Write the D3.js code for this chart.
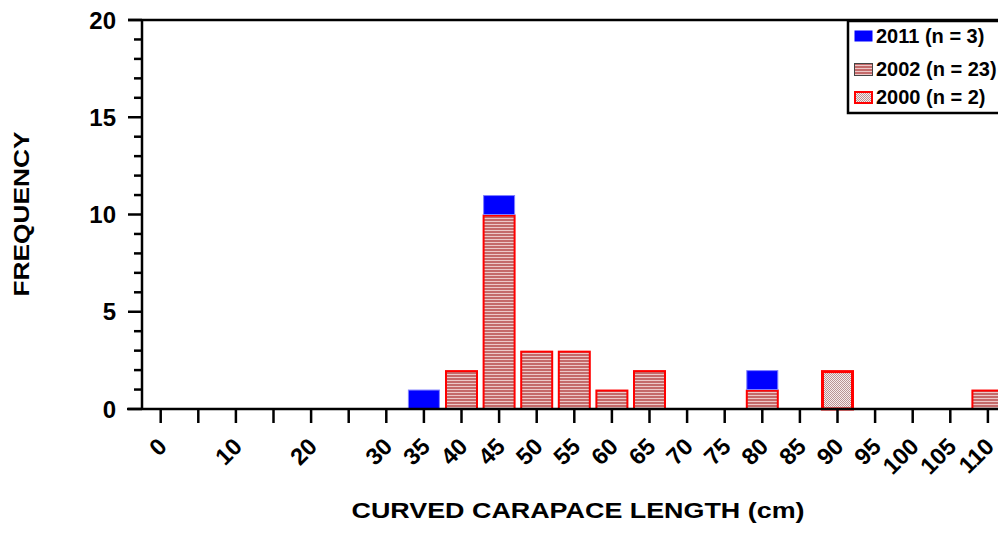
<!DOCTYPE html>
<html><head><meta charset="utf-8">
<script src="https://cdn.jsdelivr.net/npm/d3@7"></script>
<style>
html,body{margin:0;padding:0;background:#fff;}
svg{display:block;}
text{font-family:"Liberation Sans",Arial,sans-serif;font-weight:bold;fill:#000;}
</style></head>
<body>
<svg id="chart" width="998" height="533"></svg>
<script>
// ---- data ----
const categories = [0,5,10,15,20,25,30,35,40,45,50,55,60,65,70,75,80,85,90,95,100,105,110];
const labelledTicks = [0,10,20,30,35,40,45,50,55,60,65,70,75,80,85,90,95,100,105,110];
const values2011 = [0,0,0,0,0,0,0,1,0,1,0,0,0,0,0,0,1,0,0,0,0,0,0];
const values2002 = [0,0,0,0,0,0,0,0,2,10,3,3,1,2,0,0,1,0,0,0,0,0,1];
const values2000 = [0,0,0,0,0,0,0,0,0,0,0,0,0,0,0,0,0,0,2,0,0,0,0];
const seriesKeys = ["2000","2002","2011"];
const legendLabels = ["2011 (n = 3)","2002 (n = 23)","2000 (n = 2)"];
const yMajorTicks = [0,5,10,15,20];

const rows = categories.map((c,i)=>({cat:c,"2011":values2011[i],"2002":values2002[i],"2000":values2000[i]}));

const svg = d3.select("#chart");
const defs = svg.append("defs");
const p1 = defs.append("pattern").attr("id","stripes").attr("patternUnits","userSpaceOnUse").attr("width",6).attr("height",3);
p1.append("rect").attr("width",6).attr("height",3).attr("fill","#ecc8c8");
p1.append("rect").attr("width",6).attr("height",2).attr("fill","#c46a6a");
const p2 = defs.append("pattern").attr("id","checker").attr("patternUnits","userSpaceOnUse").attr("width",2).attr("height",2);
p2.append("rect").attr("width",2).attr("height",2).attr("fill","#f7eaea");
p2.append("rect").attr("width",1).attr("height",1).attr("fill","#b89494");
p2.append("rect").attr("x",1).attr("y",1).attr("width",1).attr("height",1).attr("fill","#b89494");

const fills = {"2011":"#0000ff","2002":"url(#stripes)","2000":"url(#checker)"};
const strokes = {"2011":"#8080ff","2002":"#ff0000","2000":"#ff0000"};
const strokeW = {"2011":1,"2002":2,"2000":3};

const x = d3.scalePoint().domain(categories).range([160.7, 987.9]);
const y = d3.scaleLinear().domain([0,20]).range([409,20]);
const barW = 31;

svg.append("line").attr("x1",128).attr("x2",998).attr("y1",y(20)).attr("y2",y(20)).attr("stroke","#000").attr("stroke-width",2.5);

const stack = d3.stack().keys(seriesKeys)(rows);
stack.forEach(layer=>{
  const key = layer.key;
  svg.append("g").selectAll("rect").data(layer.filter(d=>d[1]-d[0]>0)).join("rect")
    .attr("x",d=>x(d.data.cat)-barW/2 + (strokeW[key]>2?0.5:0))
    .attr("width",barW - (strokeW[key]>2?1:0))
    .attr("y",d=>y(d[1]) + strokeW[key]/2)
    .attr("height",d=>y(d[0])-y(d[1]) - strokeW[key]/2)
    .attr("fill",fills[key])
    .attr("stroke",strokes[key])
    .attr("stroke-width",strokeW[key]);
});

const yAxis = svg.append("g").attr("transform","translate(142,0)");
yAxis.append("line").attr("x1",0).attr("x2",0).attr("y1",y(20)).attr("y2",y(0)).attr("stroke","#000").attr("stroke-width",2.5);
yAxis.selectAll(".mt").data(d3.range(0,21)).join("line")
  .attr("x1",d=>d%5===0?-14:-8).attr("x2",0)
  .attr("y1",d=>y(d)).attr("y2",d=>y(d))
  .attr("stroke","#000").attr("stroke-width",2.5);
yAxis.selectAll(".yl").data(yMajorTicks).join("text")
  .attr("x",-26).attr("y",d=>y(d)).attr("dy","0.36em")
  .attr("text-anchor","end").attr("font-size",24).text(d=>d);

const xAxis = svg.append("g");
xAxis.append("line").attr("x1",127).attr("x2",998).attr("y1",409).attr("y2",409).attr("stroke","#000").attr("stroke-width",2.5);
xAxis.selectAll(".xt").data(categories).join("line")
  .attr("x1",d=>x(d)).attr("x2",d=>x(d)).attr("y1",409).attr("y2",423)
  .attr("stroke","#000").attr("stroke-width",2.5);
xAxis.selectAll(".xl").data(labelledTicks).join("text")
  .attr("transform",d=>`translate(${x(d)+7.5},448) rotate(-45)`)
  .attr("text-anchor","end").attr("font-size",23.5).text(d=>d);

svg.append("text").attr("x",578).attr("y",518).attr("text-anchor","middle")
  .attr("font-size",22).attr("textLength",453).attr("lengthAdjust","spacingAndGlyphs")
  .text("CURVED CARAPACE LENGTH (cm)");
svg.append("text").attr("transform","translate(29,214) rotate(-90)").attr("text-anchor","middle")
  .attr("font-size",22).attr("textLength",165).attr("lengthAdjust","spacingAndGlyphs")
  .text("FREQUENCY");

const lg = svg.append("g");
lg.append("rect").attr("x",848).attr("y",21).attr("width",160).attr("height",92)
  .attr("fill","#fff").attr("stroke","#000").attr("stroke-width",2.5);
const legendKeys = ["2011","2002","2000"];
const legendY = [36,69,97];
legendKeys.forEach((k,i)=>{
  const sw = k==="2000"?2:1;
  lg.append("rect").attr("x",854+sw/2).attr("y",legendY[i]-6+sw/2).attr("width",19-sw).attr("height",12-sw+(k==="2011"?0:1))
    .attr("fill",fills[k])
    .attr("stroke",k==="2011"?"none":(k==="2002"?"#444":"#ff0000"))
    .attr("stroke-width",sw);
  lg.append("text").attr("x",876).attr("y",legendY[i]).attr("dy","0.36em")
    .attr("font-size",20).text(legendLabels[i]);
});
</script>
</body></html>
